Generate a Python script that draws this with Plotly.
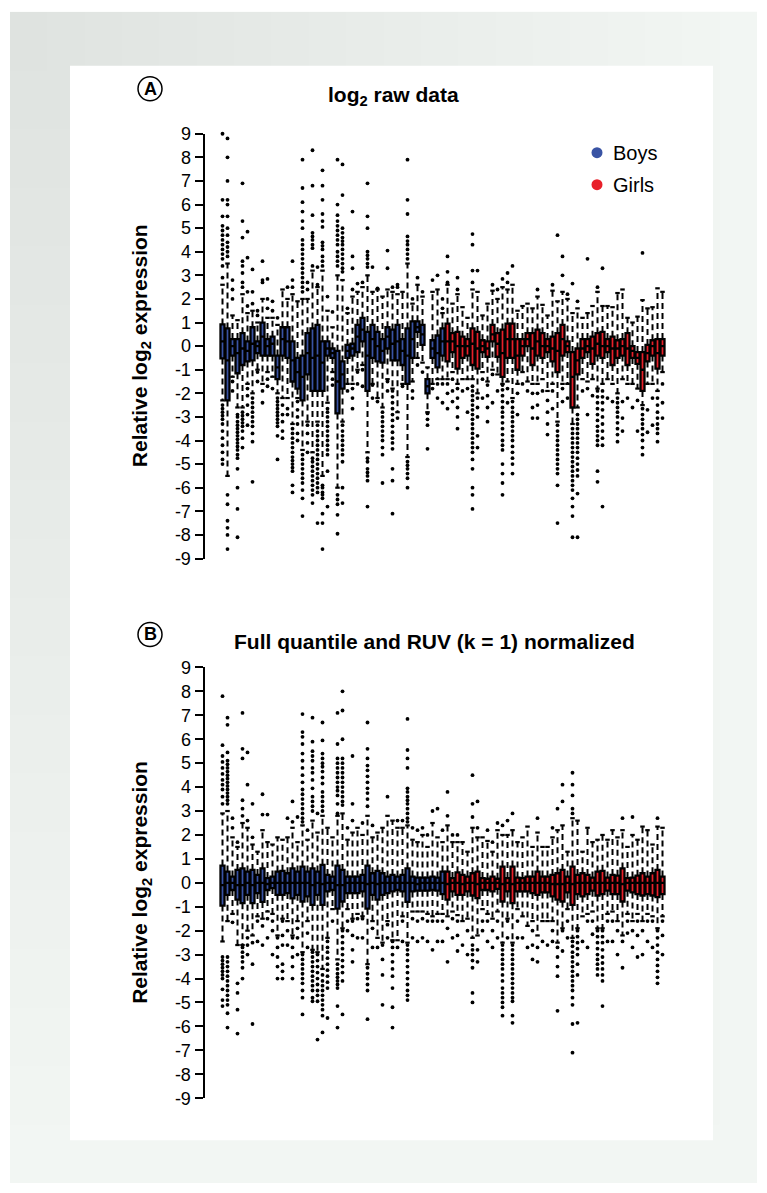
import plotly.graph_objects as go

W, H = 767, 1193
BLUE = "#3953a4"
RED = "#e8202a"
FONT = "Liberation Sans"
TICKS = list(range(-9, 10))

# ---------------- Panel A : log2 raw data ----------------
A_Q3_BOYS = [0.92, 0.75, 0.3, 0.3, 0.55, 0.2, 0.8, 0.2, 1.0, 0.3, 0.4, -0.4, 0.8, 0.8, 0.2, -0.5, -0.4, 0.55, 0.75, 0.9,
             0.2, 0.2, -0.1, -0.2, -0.65, 0.05, 0.1, 0.9, 1.2, 0.6, 0.9, 0.6, 0.3, 0.8, 0.7, 0.9, 0.3, 0.75, 1.05, 1.05,
             0.9, -1.4, 0.25, 0.45, 0.75]
A_MED_BOYS = [0.2, -0.6, 0.0, -0.3, -0.1, -0.2, 0.1, 0.0, 0.4, 0.0, 0.1, -0.9, 0.3, 0.2, -0.6, -1.1, -1.3, -0.3, -0.5, -0.4,
              -0.7, -0.1, -0.3, -1.5, -1.2, -0.2, -0.1, 0.4, 0.7, -0.4, 0.3, 0.0, -0.2, 0.4, 0.1, 0.2, -0.2, -0.4, 0.3, 0.8,
              0.5, -1.7, -0.1, -0.3, 0.2]
A_Q1_BOYS = [-0.52, -2.3, -0.4, -1.15, -0.8, -0.65, -0.6, -0.3, -0.4, -0.4, -0.4, -1.4, -0.4, -0.5, -1.5, -1.8, -2.3, -1.2,
             -1.9, -1.9, -1.9, -0.4, -0.5, -2.85, -1.8, -0.5, -0.4, -0.25, 0.2, -1.9, -0.5, -0.65, -0.7, -0.1, -0.6, -0.6,
             -0.8, -1.6, -0.5, 0.6, 0.05, -2.0, -0.5, -0.9, -0.4]
A_WHI_BOYS = [2.6, 3.5, 1.3, 1.1, 2.2, 1.4, 1.5, 1.0, 2.0, 1.2, 1.2, 0.9, 2.4, 2.0, 2.2, 1.9, 2.0, 2.0, 3.2, 2.5, 3.2, 1.5,
              0.8, 3.0, 2.8, 1.4, 2.1, 2.3, 2.5, 3.0, 2.3, 2.4, 2.1, 2.4, 2.3, 2.2, 2.3, 3.5, 1.8, 2.6, 2.1, -0.9, 2.3, 2.4,
              1.4]
A_WLO_BOYS = [-2.3, -5.5, -1.3, -2.6, -2.6, -1.6, -2.0, -1.0, -1.6, -1.1, -1.3, -2.0, -2.2, -2.2, -3.3, -2.2, -4.4, -3.2,
              -4.5, -3.2, -5.5, -2.4, -1.1, -6.0, -3.2, -1.6, -1.6, -1.0, -0.8, -4.5, -1.6, -2.2, -2.6, -1.4, -1.8, -2.8,
              -1.6, -4.7, -1.5, -0.5, -0.7, -2.8, -1.6, -1.4, -1.4]
A_OUT_HI_BOYS = [
    [9.0, 6.2, 5.5, 5.1, 4.9, 4.7, 4.5, 4.3, 4.1, 3.9, 3.7, 3.4, 2.9],
    [8.8, 8.0, 7.0, 6.2, 6.0, 5.5, 5.0, 4.7, 4.4, 4.2, 4.0, 3.8], [2.0, 2.4, 2.8], [],
    [2.5, 2.7, 3.1, 3.4, 3.6, 4.6, 5.3, 6.9], [1.7, 2.3, 3.75, 4.85], [1.8, 2.3, 3.25], [1.3, 1.5], [2.7, 2.8, 3.6],
    [1.6, 2.0, 2.85], [1.5, 1.9], [1.2], [], [2.5], [2.5, 2.8, 3.6], [],
    [2.3, 2.5, 2.7, 2.9, 3.1, 3.3, 3.5, 3.7, 3.9, 4.1, 4.3, 4.5, 5.0, 5.3, 5.7, 6.1, 6.7, 7.9], [2.4, 2.7],
    [3.4, 4.15, 4.3, 4.5, 4.65, 4.8, 5.55, 6.8, 8.3],
    [2.6, 3.35], [3.4, 3.6, 3.8, 4.1, 4.25, 4.4, 5.05, 5.3, 5.6, 6.2, 6.8, 7.45], [2.1], [1.45],
    [3.4, 3.6, 3.8, 4.0, 4.3, 4.5, 4.7, 4.9, 5.1, 5.3, 5.55, 6.0, 7.9],
    [3.15, 3.3, 3.5, 3.7, 3.9, 4.1, 4.3, 4.45, 4.6, 4.8, 5.0, 6.4, 7.7], [1.6], [2.4, 3.3, 3.8, 5.7],
    [2.65], [2.7], [3.35, 3.5, 3.7, 3.85, 4.0, 5.0, 5.5, 6.9], [3.35], [2.45], [], [3.3, 4.05], [2.5], [2.5, 2.6], [],
    [3.7, 3.9, 4.1, 4.3, 4.45, 4.65, 5.6, 6.2, 7.9], [2.0], [2.9], [2.3], [], [2.8], [3.0], [1.6, 2.0]]
A_OUT_LO_BOYS = [
    [-2.5, -2.65, -2.8, -2.95, -3.1, -3.3, -3.6, -3.9, -4.2, -4.5, -4.8, -5.0], [-6.3, -6.7, -7.4, -7.7, -8.0, -8.6],
    [-1.5, -1.9],
    [-2.9, -3.0, -3.2, -3.35, -3.5, -3.65, -3.8, -3.95, -4.1, -4.25, -4.4, -4.6, -4.75, -5.2, -6.0, -6.9, -8.1],
    [-2.8, -2.95, -3.1, -3.25, -3.4, -3.6, -3.9, -4.3],
    [-1.8, -2.1, -2.5, -2.9, -3.35], [-2.2, -2.4, -2.6, -2.8, -3.0, -3.2, -3.4, -3.7, -4.05, -5.75], [-1.1, -1.5],
    [-1.9, -2.4], [-1.4, -1.7], [-1.8],
    [-2.2, -2.35, -2.5, -2.65, -2.8, -2.95, -3.1, -3.25, -3.4, -3.8, -4.8], [-2.5, -2.9, -3.2, -3.6, -3.9],
    [-2.65, -2.9],
    [-3.5, -3.7, -3.9, -4.1, -4.3, -4.5, -4.7, -4.85, -5.0, -5.15, -5.3, -5.9, -6.2],
    [-2.35, -2.7, -3.0, -3.3, -3.7, -4.0],
    [-4.6, -4.8, -5.0, -5.2, -5.4, -5.6, -5.8, -6.1, -6.45, -7.2], [-3.35, -3.7, -4.1, -4.5],
    [-4.75, -4.9, -5.1, -5.3, -5.5, -5.7, -5.9, -6.1, -6.3, -6.65],
    [-3.35, -3.6, -3.8, -4.0, -4.2, -4.4, -4.6, -4.8, -5.0, -5.2, -5.4, -5.6, -5.8, -6.0, -6.2, -7.5],
    [-5.9, -6.0, -6.2, -6.3, -6.45, -7.1, -7.5, -8.6],
    [-2.65, -2.8, -3.0, -3.2, -3.4, -3.6, -3.8, -4.0, -4.2, -4.4, -4.6, -5.3, -6.8], [-1.4, -1.65],
    [-6.3, -6.5, -6.7, -7.15, -7.95],
    [-3.35, -3.6, -3.8, -4.0, -4.2, -4.4, -4.6, -4.9, -6.0, -6.65], [-1.9], [-1.8, -2.2, -2.65], [-1.1, -1.6],
    [-1.0, -1.7],
    [-4.75, -4.9, -5.2, -5.35, -5.5, -5.7, -6.8], [-1.65, -2.2], [-2.35],
    [-2.8, -3.0, -3.2, -3.4, -3.6, -3.8, -4.0, -4.3, -4.6, -5.8], [-1.5, -1.9],
    [-1.9, -2.15, -2.4, -2.65, -2.9, -3.15, -3.4, -3.65, -3.9, -4.1, -4.35, -5.2, -5.7, -7.1], [-3.05], [-1.7],
    [-4.9, -5.05, -5.2, -5.4, -5.6, -6.0], [-1.9, -2.2],
    [-0.8], [-1.1], [-2.85, -3.1, -3.35, -4.35], [-1.8], [-1.6, -2.2], [-1.6, -2.4]]

A_Q3_GIRLS = [0.95, 0.55, 0.6, 0.4, 0.3, 0.75, 0.6, 0.25, 0.2, 0.9, 0.55, 0.7, 0.95, 0.95, 0.3, 0.3, 0.55, 0.55, 0.7, 0.55,
              0.3, 0.4, 0.55, 0.9, 0.2, -0.25, -0.1, 0.3, 0.3, 0.4, 0.55, 0.6, 0.3, 0.4, 0.25, 0.3, 0.55, 0.0, -0.25,
              -0.25, 0.05, 0.25, 0.3, 0.3]
A_MED_GIRLS = [0.2, 0.2, 0.0, 0.0, 0.0, 0.1, -0.1, 0.0, -0.1, 0.5, 0.1, -0.3, 0.3, 0.3, -0.4, 0.0, 0.3, -0.1, 0.2, 0.0,
               0.0, -0.1, -0.2, 0.3, 0.0, -1.3, -0.6, -0.1, 0.0, -0.1, 0.1, 0.0, 0.0, -0.1, -0.1, 0.0, -0.1, -0.2, -0.5,
               -1.0, -0.3, 0.0, -0.3, 0.0]
A_Q1_GIRLS = [-0.65, -0.25, -0.95, -0.5, -0.4, -0.8, -0.95, -0.25, -0.45, 0.2, -0.45, -1.3, -0.5, -0.5, -1.0, -0.4, 0.0,
              -0.8, -0.4, -0.5, -0.25, -0.65, -1.1, -0.4, -0.25, -2.6, -1.2, -0.5, -0.25, -0.75, -0.4, -0.5, -0.25, -0.8,
              -0.5, -0.4, -0.8, -0.5, -0.75, -1.9, -0.65, -0.4, -0.95, -0.4]
A_WHI_GIRLS = [2.6, 1.8, 2.2, 1.65, 1.2, 2.4, 2.3, 1.3, 1.8, 2.35, 2.0, 2.5, 2.4, 2.6, 1.5, 1.7, 1.8, 1.6, 2.1, 1.75, 1.3,
               2.35, 1.9, 2.3, 2.0, 1.4, 1.6, 1.2, 1.4, 1.7, 2.3, 1.7, 1.7, 1.65, 2.25, 2.4, 1.2, 1.0, 1.25, 1.95, 1.6,
               1.65, 2.45, 2.3]
A_WLO_GIRLS = [-1.4, -1.1, -1.6, -1.4, -1.4, -1.4, -2.0, -1.1, -1.5, -1.0, -1.2, -1.6, -1.5, -2.2, -1.6, -1.1, -1.5, -1.6,
               -1.6, -1.4, -1.9, -1.6, -3.2, -1.6, -1.6, -3.3, -2.6, -1.4, -1.5, -1.4, -1.8, -1.6, -1.4, -1.6, -2.0, -1.4,
               -1.6, -1.6, -1.8, -2.5, -1.6, -1.6, -1.9, -1.1]
A_OUT_HI_GIRLS = [
    [2.7, 3.15, 3.8], [], [2.4, 2.9], [], [], [2.7, 3.2, 4.3, 4.75], [3.2], [], [], [2.6],
    [2.4], [2.85], [2.7, 3.1], [3.4], [], [], [], [], [2.4], [],
    [], [2.6], [4.7], [3.0, 3.8], [2.2], [2.65], [1.9], [], [3.7], [],
    [2.5], [3.3], [], [], [], [], [], [], [], [3.95],
    [], [], [], []]
A_OUT_LO_GIRLS = [
    [-1.6, -2.0, -2.65], [-1.4, -1.9, -2.35], [-1.8, -2.2, -2.6, -3.0, -3.5], [-1.9], [-1.8, -2.8],
    [-1.7, -1.9, -2.1, -2.3, -2.5, -2.7, -2.9, -3.1, -3.3, -3.5, -3.7, -3.9, -4.1, -4.3, -4.5, -4.8, -5.2, -6.0, -6.3,
     -6.9],
    [-2.2, -2.6, -3.0, -3.8, -4.3], [-1.4, -2.2], [-1.65, -2.1, -2.6, -3.2], [-1.2, -2.4], [-1.9],
    [-1.65, -1.85, -2.1, -2.35, -2.6, -2.8, -3.0, -3.25, -3.5, -3.75, -4.0, -4.2, -4.4, -5.0, -5.4, -5.8, -6.3],
    [-1.8, -2.4],
    [-2.35, -2.6, -2.8, -3.0, -3.2, -3.4, -3.6, -3.8, -4.0, -4.25, -4.5, -4.75, -5.0, -5.4], [-2.0, -2.9], [-1.6],
    [-1.9], [-2.0, -2.6, -3.05],
    [-2.0, -2.5, -3.05], [-1.9], [-2.3, -2.8, -3.3, -3.75], [-1.9, -2.65],
    [-3.35, -3.6, -3.8, -4.0, -4.2, -4.4, -4.6, -4.8, -5.0, -5.2, -5.4, -5.9, -7.5], [-1.8, -2.35], [-2.2],
    [-3.5, -3.7, -3.9, -4.1, -4.3, -4.5, -4.7, -4.9, -5.1, -5.3, -5.5, -5.7, -5.9, -6.1, -6.45, -6.8, -7.2, -8.1],
    [-2.9, -3.1, -3.3, -3.5, -3.7, -3.9, -4.1, -4.3, -4.5, -4.75, -5.0, -5.25, -5.5, -6.25, -8.1], [-1.9],
    [-1.8, -2.9], [-2.1],
    [-1.9, -2.15, -2.4, -2.65, -2.9, -3.15, -3.4, -3.6, -3.8, -4.0, -4.2, -5.3, -5.75],
    [-1.9, -2.15, -2.4, -2.7, -3.0, -3.3, -3.6, -3.9, -4.2, -6.8], [-2.2], [-2.35],
    [-2.2, -2.4, -2.6, -2.8, -3.0, -3.25, -3.5, -3.75, -4.05], [-2.35, -3.05, -3.6], [-2.2], [-2.6], [-2.3, -3.6],
    [-2.65, -2.9, -3.1, -3.3, -3.5, -3.75, -4.0, -4.3, -4.6], [-2.7, -3.65], [-2.2, -3.35],
    [-2.2, -2.5, -2.8, -3.05, -3.3, -3.5, -3.7, -4.05],
    [-1.6, -2.4, -3.05]]

# ---------------- Panel B : full quantile + RUV normalized ----------------
B_Q3_BOYS = [0.72, 0.47, 0.26, 0.54, 0.6, 0.47, 0.54, 0.33, 0.6, 0.2, 0.26, 0.47, 0.5, 0.4, 0.6, 0.47, 0.68, 0.47, 0.6,
             0.47, 0.75, 0.33, 0.26, 0.72, 0.54, 0.26, 0.26, 0.26, 0.33, 0.72, 0.4, 0.5, 0.4, 0.26, 0.33, 0.26, 0.33,
             0.6, 0.26, 0.22, 0.22, 0.22, 0.26, 0.22, 0.47]
B_MED_BOYS = [-0.1, 0.0, 0.0, -0.1, -0.1, 0.0, -0.1, 0.0, 0.0, -0.05, 0.0, 0.0, 0.0, 0.0, 0.0, 0.0, 0.0, 0.0, -0.1, 0.0,
              -0.05, 0.0, 0.0, -0.1, -0.1, 0.0, 0.0, 0.0, 0.0, -0.05, 0.0, -0.05, 0.0, 0.0, 0.0, 0.0, 0.0, 0.0, 0.0,
              -0.05, 0.0, 0.0, 0.0, 0.0, 0.0]
B_Q1_BOYS = [-0.95, -0.5, -0.3, -0.7, -0.85, -0.5, -0.85, -0.43, -0.8, -0.3, -0.22, -0.5, -0.5, -0.43, -0.65, -0.5,
             -0.78, -0.57, -0.92, -0.5, -0.92, -0.36, -0.3, -1.08, -0.78, -0.43, -0.43, -0.43, -0.36, -1.08, -0.5, -0.7,
             -0.5, -0.43, -0.36, -0.3, -0.36, -0.8, -0.36, -0.33, -0.33, -0.33, -0.3, -0.33, -0.47]
B_WHI_BOYS = [2.9, 3.0, 1.9, 1.5, 2.5, 2.3, 1.6, 1.3, 2.2, 1.7, 1.6, 1.9, 1.8, 1.9, 2.3, 1.7, 2.4, 1.8, 2.6, 2.1, 2.8,
              2.3, 1.9, 2.8, 2.9, 1.8, 2.1, 2.3, 2.0, 2.8, 1.9, 2.1, 2.3, 2.8, 2.6, 2.3, 2.3, 2.4, 1.8, 1.7, 2.0, 1.5,
              2.5, 1.9, 1.7]
B_WLO_BOYS = [-2.45, -1.6, -1.3, -2.6, -2.6, -2.0, -2.2, -1.4, -1.5, -1.2, -1.3, -2.2, -1.5, -1.6, -2.2, -1.6, -2.9,
              -1.6, -2.8, -2.9, -3.6, -2.3, -1.1, -3.2, -1.9, -1.1, -1.5, -1.3, -1.4, -3.4, -1.6, -2.3, -2.5, -1.6, -2.4,
              -2.4, -1.4, -2.5, -1.2, -1.2, -1.2, -1.3, -1.4, -1.3, -1.3]
B_OUT_HI_BOYS = [
    [3.3, 3.6, 3.9, 4.1, 4.3, 4.55, 4.8, 5.05, 5.3, 5.75, 7.8],
    [3.3, 3.45, 3.6, 3.75, 3.9, 4.05, 4.2, 4.35, 4.5, 4.65, 4.8, 4.95, 5.1, 5.45, 6.6, 6.9], [2.3, 2.7], [1.7],
    [2.8, 3.1, 3.45, 5.2, 5.6, 7.1], [2.6, 4.1, 5.45], [1.9, 3.3], [], [2.85, 3.7], [2.85], [], [], [], [2.7],
    [2.55, 3.4], [2.75],
    [2.55, 2.7, 2.9, 3.1, 3.3, 3.5, 3.7, 3.9, 4.2, 4.5, 4.8, 5.1, 5.4, 5.8, 6.1, 6.3, 7.05], [2.2],
    [3.0, 3.2, 3.4, 3.6, 3.95, 4.3, 4.6, 4.8, 5.1, 5.3, 5.5, 5.9, 6.9], [2.9],
    [3.0, 3.2, 3.4, 3.6, 3.8, 4.15, 4.4, 4.65, 4.85, 5.0, 5.2, 5.4, 5.95, 6.7], [], [],
    [2.9, 3.3, 3.65, 3.85, 4.0, 4.2, 4.4, 4.6, 4.8, 5.0, 5.2, 5.8, 7.1],
    [3.25, 3.4, 3.6, 3.8, 4.0, 4.2, 4.4, 4.6, 4.8, 5.0, 5.2, 6.0, 7.2, 8.0], [2.3], [2.6, 3.3, 5.3],
    [], [2.5], [3.2, 3.5, 3.75, 3.95, 4.2, 4.45, 4.7, 4.9, 5.2, 5.6, 6.7], [2.4], [], [], [3.6], [], [2.6], [2.6],
    [2.55, 2.7, 2.9, 3.1, 3.3, 3.45, 3.6, 3.8, 3.95, 4.8, 5.2, 5.55, 6.85], [2.3], [2.2], [2.3], [2.0], [3.0], [3.1],
    [2.2]]
B_OUT_LO_BOYS = [
    [-3.1, -3.25, -3.4, -3.55, -3.7, -3.85, -4.0, -4.45, -4.9, -5.15],
    [-3.1, -3.3, -3.5, -3.7, -3.9, -4.1, -4.3, -4.5, -4.7, -4.9, -5.1, -5.45, -6.05], [-1.65],
    [-4.2, -4.6, -5.3, -6.3], [-2.7, -2.9, -3.1, -3.3, -3.55, -4.0], [-2.3, -2.6, -3.0], [-2.5, -3.4, -5.9],
    [-1.6, -2.45],
    [-1.8, -2.6], [-1.5, -2.3], [-1.6, -2.0, -3.0], [-2.3, -2.7, -3.1, -3.5, -4.0], [-1.6, -2.2, -2.6, -3.4, -3.7, -4.0],
    [-2.0, -2.6], [-2.3, -2.7, -3.1, -3.5, -4.0], [-1.9, -2.3, -3.0],
    [-3.0, -3.2, -3.4, -3.6, -3.8, -4.0, -4.2, -4.5, -4.8, -5.5],
    [-2.1, -2.7], [-2.9, -3.1, -3.3, -3.5, -3.7, -3.9, -4.1, -4.3, -4.5, -4.8, -4.95],
    [-3.0, -3.25, -3.5, -3.75, -4.0, -4.25, -4.5, -4.7, -4.95, -6.55],
    [-3.85, -4.1, -4.3, -4.5, -4.7, -4.9, -5.1, -5.3, -5.55, -6.25],
    [-2.45, -2.7, -2.9, -3.15, -3.4, -3.65, -3.9, -4.15, -4.4, -5.65], [-1.6],
    [-3.4, -3.6, -3.8, -3.95, -4.1, -4.25, -4.4, -5.15, -6.05],
    [-2.0, -2.25, -2.5, -2.75, -3.0, -3.25, -3.5, -3.75, -4.1, -5.5], [-1.6, -2.0],
    [-1.6, -2.2, -2.8, -3.3], [-1.5, -2.3], [-1.5, -2.3], [-3.55, -3.8, -4.0, -4.25, -4.5, -5.7], [-1.9, -2.7], [-2.7],
    [-2.6, -3.2, -3.85, -5.1], [-1.75, -2.3], [-2.45, -2.7, -3.0, -3.3, -3.6, -3.9, -4.4, -5.2, -6.05], [-2.7],
    [-1.6, -2.45],
    [-2.6, -2.8, -3.0, -3.25, -3.5, -3.75, -4.0, -4.25, -4.5, -4.7, -4.9], [-1.5, -2.3], [-1.6, -2.45], [-1.5, -2.3],
    [-1.6, -2.45], [-1.6, -2.8],
    [-1.6, -2.45], [-1.6, -2.45]]

B_Q3_GIRLS = [0.47, 0.2, 0.44, 0.33, 0.26, 0.4, 0.47, 0.2, 0.17, 0.26, 0.17, 0.68, 0.2, 0.68, 0.22, 0.2, 0.26, 0.26,
              0.47, 0.26, 0.26, 0.33, 0.4, 0.54, 0.26, 0.68, 0.33, 0.4, 0.33, 0.22, 0.47, 0.5, 0.22, 0.33, 0.3, 0.6, 0.2,
              0.22, 0.3, 0.4, 0.26, 0.4, 0.54, 0.26]
B_MED_GIRLS = [-0.05, 0.0, 0.0, -0.05, 0.0, 0.0, -0.05, 0.0, 0.0, 0.0, 0.0, -0.05, 0.0, -0.05, 0.0, 0.0, 0.0, 0.0, 0.0,
               0.0, 0.0, -0.05, -0.05, -0.05, 0.0, -0.05, 0.0, 0.0, 0.0, 0.0, 0.0, 0.0, 0.0, 0.0, 0.0, -0.05, 0.0, 0.0,
               0.0, 0.0, 0.0, 0.0, 0.0, 0.0]
B_Q1_GIRLS = [-0.7, -0.36, -0.5, -0.5, -0.36, -0.53, -0.64, -0.3, -0.3, -0.36, -0.25, -0.78, -0.36, -0.85, -0.36, -0.36,
              -0.36, -0.43, -0.5, -0.4, -0.4, -0.57, -0.7, -0.78, -0.4, -0.92, -0.47, -0.57, -0.47, -0.33, -0.53, -0.47,
              -0.33, -0.47, -0.47, -0.78, -0.33, -0.4, -0.47, -0.53, -0.47, -0.53, -0.6, -0.47]
B_WHI_GIRLS = [2.4, 1.7, 1.7, 1.7, 1.3, 2.3, 1.9, 1.9, 1.75, 1.3, 2.2, 2.0, 2.0, 2.2, 1.7, 1.9, 2.35, 1.5, 2.1, 1.5, 1.5,
               1.9, 2.2, 2.4, 1.3, 2.7, 2.6, 1.3, 2.3, 1.7, 1.8, 2.0, 1.8, 2.2, 1.9, 2.2, 1.5, 2.0, 1.8, 2.35, 2.2, 1.6,
               2.35, 2.3]
B_WLO_GIRLS = [-1.4, -1.2, -1.35, -1.6, -1.5, -2.3, -2.2, -1.1, -1.3, -1.5, -1.2, -2.5, -1.5, -2.5, -1.1, -1.4, -1.8,
               -1.6, -2.2, -1.6, -1.6, -1.6, -2.5, -1.9, -1.1, -2.3, -1.9, -1.4, -1.3, -1.2, -1.9, -1.9, -1.3, -1.2, -1.6,
               -2.2, -1.3, -1.6, -1.3, -1.6, -1.3, -1.4, -1.9, -1.4]
B_OUT_HI_GIRLS = [
    [2.8, 3.8], [2.0], [2.0], [], [], [2.75, 3.3, 4.5], [2.3, 3.4], [], [2.2], [1.7],
    [2.5], [2.4], [2.6], [2.9], [], [], [], [], [2.7], [],
    [], [2.3], [3.1], [3.4, 4.1], [], [2.9, 3.1, 3.65, 4.1, 4.6], [], [], [], [],
    [], [], [], [], [], [2.7], [], [2.75], [], [],
    [], [], [2.7], []]
B_OUT_LO_GIRLS = [
    [-1.9, -3.3], [-1.5, -2.3], [-1.6, -2.2, -2.85], [-2.6], [-2.0, -3.0],
    [-2.6, -2.8, -3.0, -3.25, -3.55, -4.6, -5.0], [-2.8, -3.3],
    [-1.6, -2.0], [-1.6, -2.45], [-2.0, -2.7], [-1.6, -2.3],
    [-2.6, -2.8, -3.0, -3.2, -3.4, -3.6, -3.85, -4.1, -4.4, -4.6, -4.8, -5.0, -5.2, -5.55],
    [-1.6, -2.3], [-2.6, -2.8, -3.0, -3.2, -3.4, -3.6, -3.8, -4.0, -4.2, -4.4, -4.6, -4.8, -4.95, -5.55, -5.85],
    [-1.6, -2.3], [-2.3], [-2.7],
    [-2.0, -2.6, -3.2], [-2.7, -3.3], [-2.45], [-2.6], [-2.0, -2.45], [-2.7, -3.1, -3.5, -3.9, -5.35], [-2.0, -2.85],
    [-1.6, -2.3], [-2.45, -2.65, -2.9, -3.1, -3.3, -3.5, -3.7, -3.9, -4.1, -4.3, -4.5, -4.8, -5.1, -5.9, -7.1],
    [-2.0, -2.25, -2.5, -2.75, -3.0, -3.4, -3.85, -5.85], [-2.45],
    [-1.6, -2.7], [-1.6, -2.15], [-2.0, -2.25, -2.5, -2.75, -3.0, -3.2, -3.4, -3.6, -3.85],
    [-2.0, -2.25, -2.5, -2.8, -3.1, -3.35, -3.6, -3.85, -4.1, -5.15],
    [-1.6, -2.45], [-1.6, -2.45], [-2.0, -3.0], [-2.45, -3.55], [-1.6, -2.1], [-2.0, -2.7], [-1.6, -2.2, -3.1],
    [-2.0, -3.0], [-1.6, -2.45], [-1.6, -2.7], [-2.0, -2.3, -2.6, -2.9, -3.2, -3.45, -3.7, -3.95, -4.2],
    [-1.6, -2.2, -3.0]]

PANEL_TITLES = ["<b>log<sub>2</sub> raw data</b>", "<b>Full quantile and RUV (k = 1) normalized</b>"]
PANEL_LETTERS = ["A", "B"]
Y_TITLE = "<b>Relative log<sub>2</sub> expression</b>"
LEGEND_LABELS = ["Boys", "Girls"]

# the captured page is slightly squeezed vertically; convert a wanted screen row to a layout row
VS, VOFF = 0.9838, 9.18


def X(px):
    return px / W


def Y(screen_y):
    py = (screen_y - VOFF) / VS
    return min(1.0, max(0.0, 1 - py / H))


panels = [
    dict(boys=(A_Q1_BOYS, A_MED_BOYS, A_Q3_BOYS, A_WLO_BOYS, A_WHI_BOYS, A_OUT_HI_BOYS, A_OUT_LO_BOYS),
         girls=(A_Q1_GIRLS, A_MED_GIRLS, A_Q3_GIRLS, A_WLO_GIRLS, A_WHI_GIRLS, A_OUT_HI_GIRLS, A_OUT_LO_GIRLS),
         xa="x", ya="y", top=133, bot=558, title_x=393, title_y=95, letter_y=88),
    dict(boys=(B_Q1_BOYS, B_MED_BOYS, B_Q3_BOYS, B_WLO_BOYS, B_WHI_BOYS, B_OUT_HI_BOYS, B_OUT_LO_BOYS),
         girls=(B_Q1_GIRLS, B_MED_GIRLS, B_Q3_GIRLS, B_WLO_GIRLS, B_WHI_GIRLS, B_OUT_HI_GIRLS, B_OUT_LO_GIRLS),
         xa="x2", ya="y2", top=667, bot=1098, title_x=434, title_y=641, letter_y=634),
]

fig = go.Figure()

for pn in panels:
    nb = len(pn["boys"][0])
    ng = len(pn["girls"][0])
    groups = [(list(range(1, nb + 1)), pn["boys"], BLUE), (list(range(nb + 1, nb + ng + 1)), pn["girls"], RED)]
    wx, wy, cx, cy, ox, oy = [], [], [], [], [], []
    for pos, (q1, med, q3, wlo, whi, ohi, olo), col in groups:
        for p, a, b, lo, hi, oh, ol in zip(pos, q1, q3, wlo, whi, ohi, olo):
            wx += [p, p, None, p, p, None]
            wy += [b, hi, None, a, lo, None]
            cx += [p - 0.45, p + 0.45, None, p - 0.45, p + 0.45, None]
            cy += [hi, hi, None, lo, lo, None]
            for v in oh + ol:
                ox.append(p)
                oy.append(v)
    fig.add_trace(go.Scatter(x=wx, y=wy, mode="lines", xaxis=pn["xa"], yaxis=pn["ya"],
                             line=dict(color="black", width=2.0, dash="6px,4px"),
                             hoverinfo="skip", showlegend=False))
    fig.add_trace(go.Scatter(x=cx, y=cy, mode="lines", xaxis=pn["xa"], yaxis=pn["ya"],
                             line=dict(color="black", width=2.2), hoverinfo="skip", showlegend=False))
    for pos, (q1, med, q3, wlo, whi, ohi, olo), col in groups:
        fig.add_trace(go.Box(x=pos, q1=q1, median=med, q3=q3, lowerfence=q1, upperfence=q3,
                             width=0.8, fillcolor=col, line=dict(color="black", width=2.3),
                             whiskerwidth=0, boxpoints=False, xaxis=pn["xa"], yaxis=pn["ya"],
                             hoverinfo="skip", showlegend=False))
    fig.add_trace(go.Scatter(x=ox, y=oy, mode="markers", xaxis=pn["xa"], yaxis=pn["ya"],
                             marker=dict(color="black", size=3.8, line=dict(width=0)),
                             cliponaxis=False, hoverinfo="skip", showlegend=False))

axis_x = dict(domain=[X(205), X(670)], range=[-2.5, 90.5], visible=False, fixedrange=True)
axis_y = dict(range=[-9, 9], tickmode="array", tickvals=TICKS, ticktext=[str(t) for t in TICKS],
              showline=True, linecolor="black", linewidth=2.5, ticks="outside", ticklen=8, tickwidth=2,
              tickcolor="black", showgrid=False, zeroline=False, fixedrange=True,
              tickfont=dict(family=FONT, size=18, color="black"))

fig.update_layout(
    width=W, height=H, autosize=False,
    margin=dict(l=0, r=0, t=0, b=0, pad=0),
    paper_bgcolor="white", plot_bgcolor="rgba(0,0,0,0)",
    boxmode="overlay",
    xaxis=dict(axis_x, anchor="y"),
    xaxis2=dict(axis_x, anchor="y2"),
    yaxis=dict(axis_y, domain=[Y(panels[0]["bot"]), Y(panels[0]["top"])], anchor="x"),
    yaxis2=dict(axis_y, domain=[Y(panels[1]["bot"]), Y(panels[1]["top"])], anchor="x2"),
    showlegend=False,
)

shapes = []
# page frame with a soft grey-green gradient (slightly darker towards the top-left corner)
fx0, fy0, fx1, fy1 = 10, 11, 757, 1183
shapes.append(dict(type="rect", xref="paper", yref="paper", x0=X(fx0), x1=X(fx1), y0=Y(fy1), y1=Y(fy0),
                   fillcolor="rgb(243,247,244)", line=dict(width=0), layer="below"))
NL = 20
for k in range(NL):
    f = (k + 1) / NL
    shapes.append(dict(type="rect", xref="paper", yref="paper",
                       x0=X(fx0), x1=X(fx0 + (fx1 - fx0) * f), y0=Y(fy0 + (fy1 - fy0) * f), y1=Y(fy0),
                       fillcolor="rgba(160,182,166,0.0095)", line=dict(width=0), layer="below"))
shapes.append(dict(type="rect", xref="paper", yref="paper", x0=X(70), x1=X(713), y0=Y(1140), y1=Y(65),
                   fillcolor="white", line=dict(width=0), layer="below"))

annotations = []
for pn, title, letter in zip(panels, PANEL_TITLES, PANEL_LETTERS):
    ly = pn["letter_y"]
    shapes.append(dict(type="circle", xref="paper", yref="paper", x0=X(138), x1=X(162), y0=Y(ly + 12),
                       y1=Y(ly - 12), line=dict(color="black", width=1.5), fillcolor="rgba(0,0,0,0)"))
    annotations.append(dict(text="<b>%s</b>" % letter, x=X(150), y=Y(ly), xref="paper", yref="paper",
                            showarrow=False, xanchor="center", yanchor="middle",
                            font=dict(family=FONT, size=18, color="black")))
    annotations.append(dict(text=title, x=X(pn["title_x"]), y=Y(pn["title_y"]), xref="paper", yref="paper",
                            showarrow=False, xanchor="center", yanchor="middle",
                            font=dict(family=FONT, size=21, color="black")))
    annotations.append(dict(text=Y_TITLE, x=X(141), y=Y((pn["top"] + pn["bot"]) / 2), xref="paper",
                            yref="paper", textangle=-90, showarrow=False, xanchor="center", yanchor="middle",
                            font=dict(family=FONT, size=21, color="black")))

for label, col, ly in zip(LEGEND_LABELS, [BLUE, RED], [152, 184]):
    shapes.append(dict(type="circle", xref="paper", yref="paper", x0=X(591.5), x1=X(602.5), y0=Y(ly + 5.5),
                       y1=Y(ly - 5.5), line=dict(width=0), fillcolor=col))
    annotations.append(dict(text=label, x=X(611), y=Y(ly), xref="paper", yref="paper", showarrow=False,
                            xanchor="left", yanchor="middle", font=dict(family=FONT, size=20, color="black")))

fig.update_layout(shapes=shapes, annotations=annotations)
fig.write_html(
    "out.html",
    config={"displayModeBar": False, "staticPlot": True},
    post_script=("document.documentElement.style.margin='0px';document.documentElement.style.padding='0px';"
                 "document.body.style.margin='0px';document.body.style.padding='0px';"
                 "document.documentElement.style.overflow='hidden';document.body.style.overflow='hidden';"),
)
